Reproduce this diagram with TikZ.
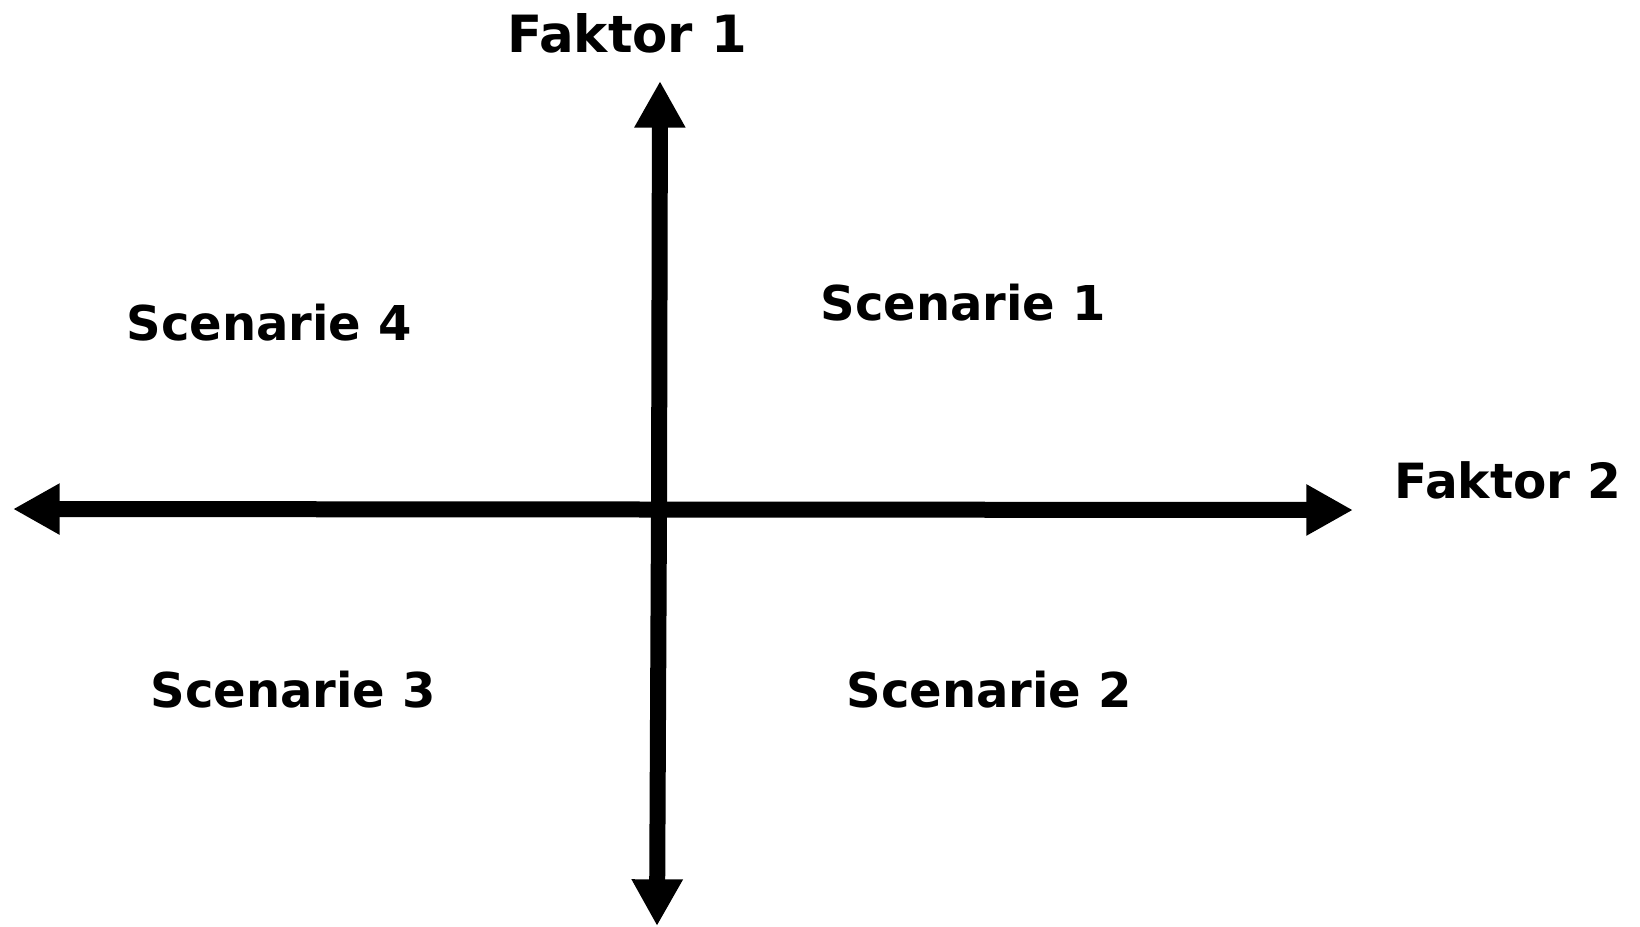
\documentclass[tikz,border=0pt]{standalone}
\usepackage{fontspec}
\setmainfont{DejaVu Sans}
\usetikzlibrary{arrows.meta}

\tikzset{
    akse/.style={line width=12pt, -{Triangle[length=35pt, width=36pt]}},
    faktor/.style={anchor=base, inner sep=0pt, font=\bfseries\fontsize{38.5}{46}\selectfont},
    scenarie/.style={anchor=base, inner sep=0pt, font=\bfseries\fontsize{36}{43}\selectfont}
}

\begin{document}
\begin{tikzpicture}[x=0.75pt, y=-0.75pt]
        \useasboundingbox (0,0) rectangle (1640,926);

        % Akseendepunkter
        \coordinate (op) at (660,81);
        \coordinate (ned) at (657,926);
        \coordinate (venstre) at (13,509);
        \coordinate (hoejre) at (1353,510);
        \coordinate (midt) at (659,509.5);

        % Akserne
        \draw[akse] (midt) -- (op);
        \draw[akse] (midt) -- (ned);
        \draw[akse] (midt) -- (venstre);
        \draw[akse] (midt) -- (hoejre);

        % Faktorer
        \node[faktor] (f1) at (627,52) {Faktor 1};
        \node[faktor, font=\bfseries\fontsize{36.4}{44}\selectfont] (f2) at (1508,498) {Faktor 2};

        % Scenarier
        \node[scenarie] (s1) at (963,320) {Scenarie 1};
        \node[scenarie] (s2) at (989,707) {Scenarie 2};
        \node[scenarie] (s3) at (293,707) {Scenarie 3};
        \node[scenarie] (s4) at (269,340) {Scenarie 4};
    \end{tikzpicture}
\end{document}
